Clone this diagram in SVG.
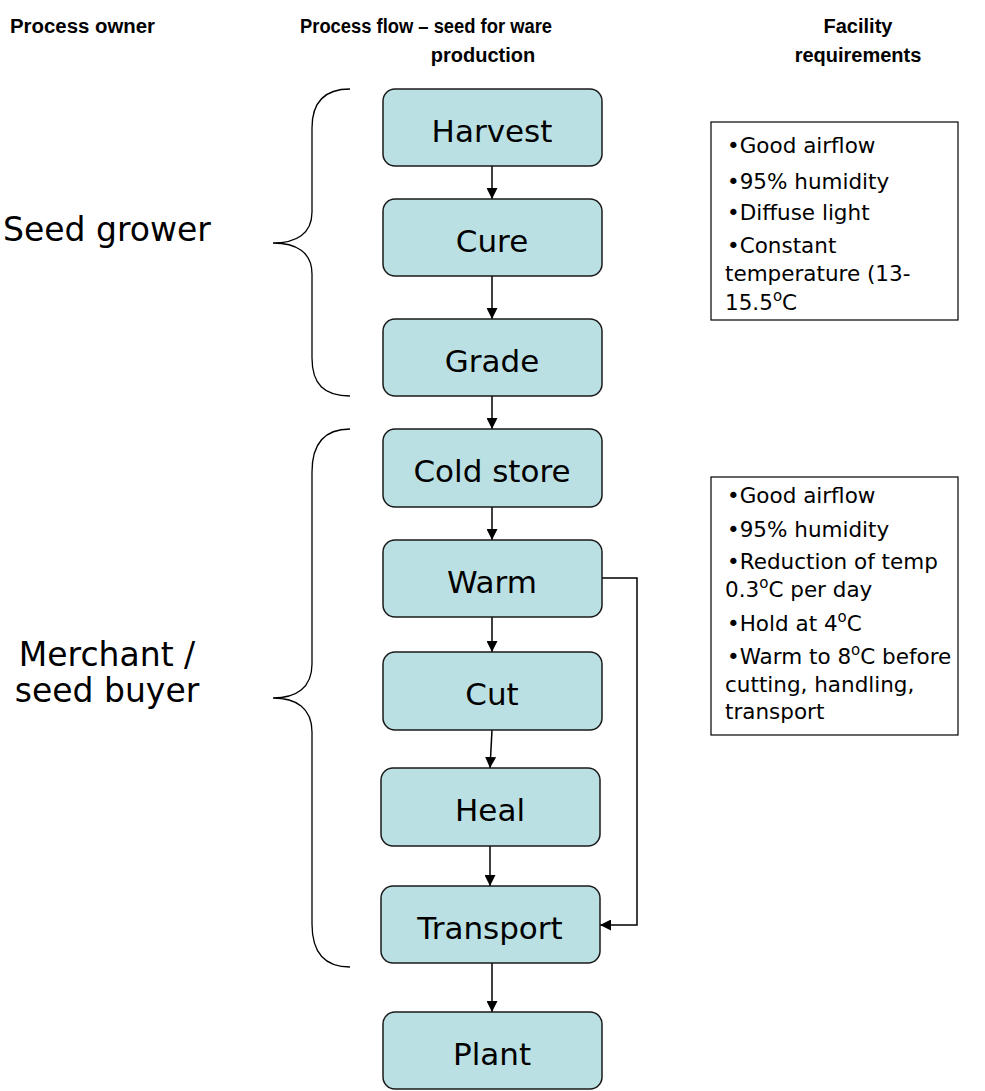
<svg xmlns="http://www.w3.org/2000/svg" width="985" height="1091" viewBox="0 0 985 1091">
<defs>
<style>
.hdr{font-family:"Liberation Sans",Arial,sans-serif;font-weight:bold;font-size:20px;fill:#000}
.box{fill:#BBE0E3;stroke:#1a1a1a;stroke-width:1.5}
.lbl{font-family:"DejaVu Sans",sans-serif;font-size:31px;fill:#000;text-anchor:middle}
.own{font-family:"DejaVu Sans",sans-serif;font-size:33px;fill:#000}
.req{fill:#fff;stroke:#000;stroke-width:1.2}
.rt{font-family:"DejaVu Sans",sans-serif;font-size:21.5px;fill:#000}
.brace{fill:none;stroke:#000;stroke-width:1.3}
.conn{fill:none;stroke:#000;stroke-width:1.5}
</style>
<marker id="ah" viewBox="0 0 10 10" refX="10" refY="5" markerWidth="11" markerHeight="11" markerUnits="userSpaceOnUse" orient="auto">
<path d="M0,0 L10,5 L0,10 Z" fill="#000"/>
</marker>
</defs>
<rect width="985" height="1091" fill="#fff"/>

<g id="headers">
<text class="hdr" x="10" y="33" textLength="145" lengthAdjust="spacingAndGlyphs">Process owner</text>
<text class="hdr" x="300" y="33" textLength="252" lengthAdjust="spacingAndGlyphs">Process flow – seed for ware</text>
<text class="hdr" x="483" y="62" text-anchor="middle">production</text>
<text class="hdr" x="858" y="33" text-anchor="middle">Facility</text>
<text class="hdr" x="858" y="62" text-anchor="middle">requirements</text>
</g>

<g id="owner-seed-grower">
<path class="brace" d="M350,89 C324,89 312,102 312,128 L312,212 C312,234 296,243 273,243 C296,243 312,252 312,274 L312,358 C312,384 324,396 350,396"/>
<text class="own" x="3" y="241">Seed grower</text>
</g>
<g id="owner-merchant">
<path class="brace" d="M350,429 C324,429 312,444 312,472 L312,664 C312,688 296,698 273,698 C296,698 312,708 312,732 L312,924 C312,952 324,967 350,967"/>
<text class="own" x="107" y="666" text-anchor="middle">Merchant /</text>
<text class="own" x="107" y="702" text-anchor="middle">seed buyer</text>
</g>

<g id="connectors">
<line class="conn" x1="492" y1="166" x2="492" y2="199" marker-end="url(#ah)"/>
<line class="conn" x1="492" y1="276" x2="492" y2="319" marker-end="url(#ah)"/>
<line class="conn" x1="492" y1="396" x2="492" y2="429" marker-end="url(#ah)"/>
<line class="conn" x1="492" y1="507" x2="492" y2="540" marker-end="url(#ah)"/>
<line class="conn" x1="492" y1="617" x2="492" y2="652" marker-end="url(#ah)"/>
<line class="conn" x1="492" y1="730" x2="490" y2="768" marker-end="url(#ah)"/>
<line class="conn" x1="490" y1="846" x2="490" y2="886" marker-end="url(#ah)"/>
<line class="conn" x1="492" y1="963" x2="492" y2="1012" marker-end="url(#ah)"/>
<path class="conn" d="M602,578 H637 V925 H600" marker-end="url(#ah)"/>
</g>

<g id="node-harvest"><rect class="box" x="383" y="89" width="219" height="77" rx="12"/><text class="lbl" x="492" y="142">Harvest</text></g>
<g id="node-cure"><rect class="box" x="383" y="199" width="219" height="77" rx="12"/><text class="lbl" x="492" y="252">Cure</text></g>
<g id="node-grade"><rect class="box" x="383" y="319" width="219" height="77" rx="12"/><text class="lbl" x="492" y="372">Grade</text></g>
<g id="node-cold-store"><rect class="box" x="383" y="429" width="219" height="78" rx="12"/><text class="lbl" x="492" y="482">Cold store</text></g>
<g id="node-warm"><rect class="box" x="383" y="540" width="219" height="77" rx="12"/><text class="lbl" x="492" y="593">Warm</text></g>
<g id="node-cut"><rect class="box" x="383" y="652" width="219" height="78" rx="12"/><text class="lbl" x="492" y="705">Cut</text></g>
<g id="node-heal"><rect class="box" x="381" y="768" width="219" height="78" rx="12"/><text class="lbl" x="490" y="821">Heal</text></g>
<g id="node-transport"><rect class="box" x="381" y="886" width="219" height="77" rx="12"/><text class="lbl" x="490" y="939">Transport</text></g>
<g id="node-plant"><rect class="box" x="383" y="1012" width="219" height="77" rx="12"/><text class="lbl" x="492" y="1065">Plant</text></g>

<g id="req-seed-grower">
<rect class="req" x="711" y="122" width="247" height="198"/>
<text class="rt" x="727" y="153">•Good airflow</text>
<text class="rt" x="727" y="189">•95% humidity</text>
<text class="rt" x="727" y="220">•Diffuse light</text>
<text class="rt" x="727" y="253">•Constant</text>
<text class="rt" x="725" y="281">temperature (13-</text>
<text class="rt" x="725" y="310">15.5<tspan dy="-9" font-size="15">o</tspan><tspan dy="9">C</tspan></text>
</g>

<g id="req-merchant">
<rect class="req" x="711" y="477" width="247" height="258"/>
<text class="rt" x="727" y="503">•Good airflow</text>
<text class="rt" x="727" y="537">•95% humidity</text>
<text class="rt" x="727" y="569">•Reduction of temp</text>
<text class="rt" x="725" y="597">0.3<tspan dy="-9" font-size="15">o</tspan><tspan dy="9">C per day</tspan></text>
<text class="rt" x="727" y="631">•Hold at 4<tspan dy="-9" font-size="15">o</tspan><tspan dy="9">C</tspan></text>
<text class="rt" x="727" y="664">•Warm to 8<tspan dy="-9" font-size="15">o</tspan><tspan dy="9">C before</tspan></text>
<text class="rt" x="725" y="692">cutting, handling,</text>
<text class="rt" x="725" y="719">transport</text>
</g>
</svg>
